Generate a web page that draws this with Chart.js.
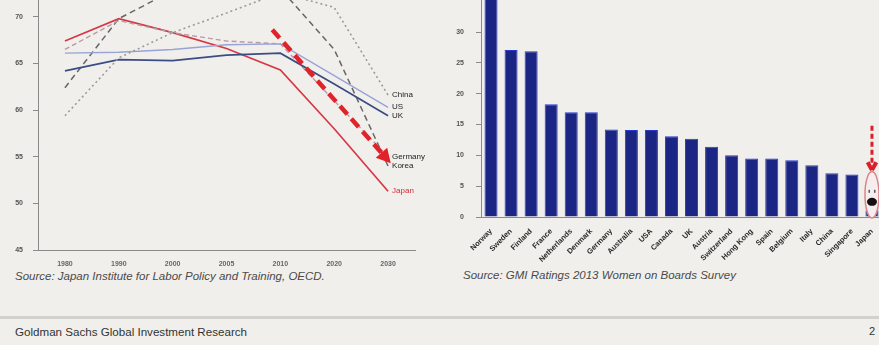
<!DOCTYPE html>
<html>
<head>
<meta charset="utf-8">
<script src="https://cdn.jsdelivr.net/npm/chart.js@4.4.1/dist/chart.umd.min.js"></script>
<style>
  html, body { margin:0; padding:0; }
  body { width:879px; height:345px; overflow:hidden; background:#f1efeb; position:relative;
         font-family:"Liberation Sans", Arial, sans-serif; }
  canvas { position:absolute; }
  #popChart { left:0; top:-20px; }
  #boardChart { left:440px; top:-20px; }
  .src { position:absolute; font-style:italic; font-size:11.5px; color:#4a4a4a; white-space:nowrap; }
  #src1 { left:15px; top:270px; }
  #src2 { left:463px; top:269px; }
  #rule { position:absolute; left:0; top:316px; width:879px; height:3px; background:#d3d1cd; }
  #footer { position:absolute; left:15px; top:325px; font-size:11.6px; color:#333; }
  #page { position:absolute; left:869px; top:325px; font-size:11px; color:#333; }
</style>
</head>
<body>
<canvas id="popChart" width="440" height="290"></canvas>
<canvas id="boardChart" width="442" height="282"></canvas>
<div class="src" id="src1">Source: Japan Institute for Labor Policy and Training, OECD.</div>
<div class="src" id="src2">Source: GMI Ratings 2013 Women on Boards Survey</div>
<div id="rule"></div>
<div id="footer">Goldman Sachs Global Investment Research</div>
<div id="page">2</div>

<script>
// left chart: working-age population share (%)
const years   = ['1980','1990','2000','2005','2010','2020','2030'];
const china   = [59.4, 65.6, 68.3, 70.4, 72.6, 71.0, 61.6];
const us      = [66.1, 66.2, 66.5, 67.0, 67.1, 63.7, 60.3];
const uk      = [64.2, 65.4, 65.3, 65.9, 66.1, 62.8, 59.4];
const germany = [66.5, 69.6, 68.3, 67.4, 67.1, 61.0, 55.0];
const korea   = [62.4, 69.8, 72.8, 73.5, 73.0, 66.5, 54.0];
const japan   = [67.4, 69.8, 68.3, 66.6, 64.3, 58.0, 51.3];
const popTicks = [45, 50, 55, 60, 65, 70];

// right chart: women on boards (%)
const countries = ['Norway','Sweden','Finland','France','Netherlands','Denmark','Germany','Australia','USA','Canada',
                   'UK','Austria','Switzerland','Hong Kong','Spain','Belgium','Italy','China','Singapore','Japan'];
const boardShare = [36.1, 27.1, 26.9, 18.3, 17.0, 17.0, 14.2, 14.1, 14.1, 13.1,
                    12.7, 11.4, 10.0, 9.5, 9.5, 9.2, 8.4, 7.1, 6.9, 1.1];
const boardTicks = [0, 5, 10, 15, 20, 25, 30];

// annotation arrows, in data units [categoryIndex, value]
const popArrow   = [[3.85, 68.6], [6.05, 54.3]];
const boardArrow = [[19, 14.8], [19, 7.6]];

const axisGrey = '#8c8a88';
const tickFont = { family:'Liberation Sans', size:7, weight:'bold' };

function drawArrow(ctx, x1, y1, x2, y2, opts){
  const ang = Math.atan2(y2-y1, x2-x1);
  const head = opts.head;
  ctx.save();
  ctx.strokeStyle = opts.color; ctx.fillStyle = opts.color;
  ctx.lineWidth = opts.width;
  ctx.setLineDash(opts.dash);
  ctx.beginPath();
  ctx.moveTo(x1, y1);
  ctx.lineTo(x2 - Math.cos(ang)*head*0.7, y2 - Math.sin(ang)*head*0.7);
  ctx.stroke();
  ctx.setLineDash([]);
  ctx.beginPath();
  ctx.moveTo(x2, y2);
  ctx.lineTo(x2 - head*Math.cos(ang-0.5), y2 - head*Math.sin(ang-0.5));
  if(opts.open){
    ctx.moveTo(x2, y2);
    ctx.lineTo(x2 - head*Math.cos(ang+0.5), y2 - head*Math.sin(ang+0.5));
    ctx.lineWidth = opts.width + 1;
    ctx.stroke();
  } else {
    ctx.lineTo(x2 - head*Math.cos(ang+0.5), y2 - head*Math.sin(ang+0.5));
    ctx.closePath();
    ctx.fill();
  }
  ctx.restore();
}

const endLabels = {
  id:'endLabels',
  afterDatasetsDraw(chart){
    const ctx = chart.ctx;
    ctx.save();
    ctx.font = '8px "Liberation Sans", Arial, sans-serif';
    ctx.textBaseline = 'middle';
    chart.data.datasets.forEach((ds, i) => {
      const pts = chart.getDatasetMeta(i).data;
      const p = pts[pts.length-1];
      ctx.fillStyle = ds.label === 'Japan' ? '#d42a35' : '#222';
      ctx.fillText(ds.label, p.x + 4, p.y);
    });
    const xs = chart.scales.x, ys = chart.scales.y;
    const px = v => xs.getPixelForValue(0) + v*(xs.getPixelForValue(1) - xs.getPixelForValue(0));
    drawArrow(ctx, px(popArrow[0][0]), ys.getPixelForValue(popArrow[0][1]),
                   px(popArrow[1][0]), ys.getPixelForValue(popArrow[1][1]),
                   { color:'#e0222a', width:4.5, dash:[11,6], head:16 });
    ctx.restore();
  }
};

const japanMark = {
  id:'japanMark',
  afterDatasetsDraw(chart){
    const ctx = chart.ctx, xs = chart.scales.x, ys = chart.scales.y;
    const x = xs.getPixelForValue(boardArrow[0][0]);
    drawArrow(ctx, x, ys.getPixelForValue(boardArrow[0][1]), x, ys.getPixelForValue(boardArrow[1][1]),
              { color:'#d8202a', width:3, dash:[5,3], head:9, open:true });
    // circled face over the Japan bar
    const top = ys.getPixelForValue(7.2), bot = ys.getPixelForValue(0);
    const cy = (top+bot)/2, ry = (bot-top)/2 + 1;
    ctx.save();
    ctx.beginPath();
    ctx.ellipse(x, cy, 7, ry, 0, 0, Math.PI*2);
    ctx.fillStyle = '#f6eeee'; ctx.fill();
    ctx.lineWidth = 1.5; ctx.strokeStyle = '#d9868a'; ctx.stroke();
    ctx.fillStyle = '#555';
    ctx.fillRect(x-3.5, cy-5, 1.5, 3);
    ctx.fillRect(x+2, cy-5, 1.5, 3);
    ctx.fillStyle = '#111';
    ctx.beginPath();
    ctx.ellipse(x, cy+7, 5, 4, 0, 0, Math.PI*2);
    ctx.fill();
    ctx.restore();
  }
};

function lineSet(label, data, color, dash, width){
  return { label, data, borderColor:color, borderDash:dash, borderWidth:width,
           pointRadius:0, fill:false, tension:0 };
}

new Chart(document.getElementById('popChart').getContext('2d'), {
  type:'line',
  data:{
    labels: years,
    datasets:[
      lineSet('China', china, '#9b9b9b', [2,3], 1.6),
      lineSet('US', us, '#98a3d6', [], 1.4),
      lineSet('UK', uk, '#3b4c86', [], 1.7),
      lineSet('Germany', germany, '#b89aa6', [5,3], 1.4),
      lineSet('Korea', korea, '#666666', [6,4], 1.5),
      lineSet('Japan', japan, '#d73845', [], 1.7)
    ]
  },
  options:{
    responsive:false, animation:false,
    layout:{ padding:{ top:20, right:25 } },
    plugins:{ legend:{ display:false }, tooltip:{ enabled:false } },
    scales:{
      x:{ offset:true,
          grid:{ display:false },
          border:{ display:true, color:axisGrey },
          ticks:{ font:tickFont, color:'#666', maxRotation:0, autoSkip:false, padding:2 },
          afterFit: s => { s.height = 20; } },
      y:{ min:45, max:71.8,
          afterBuildTicks: s => { s.ticks = popTicks.map(v => ({ value:v })); },
          grid:{ drawOnChartArea:false, tickLength:5, color:axisGrey },
          border:{ display:true, color:axisGrey },
          ticks:{ font:tickFont, color:'#555', padding:10 },
          afterFit: s => { s.width = 38; } }
    }
  },
  plugins:[endLabels]
});

new Chart(document.getElementById('boardChart').getContext('2d'), {
  type:'bar',
  data:{
    labels: countries,
    datasets:[{ data: boardShare, backgroundColor:'#1b2583', borderColor:'#2a3bd0', borderWidth:1,
                barPercentage:0.65, categoryPercentage:1 }]
  },
  options:{
    responsive:false, animation:false,
    layout:{ padding:{ top:20 } },
    plugins:{ legend:{ display:false }, tooltip:{ enabled:false } },
    scales:{
      x:{ grid:{ display:false },
          border:{ display:true, color:axisGrey },
          ticks:{ font:{ family:'Liberation Sans', size:7.5, weight:'bold' }, color:'#2a2a2a',
                  minRotation:45, maxRotation:45, autoSkip:false, padding:2 },
          afterFit: s => { s.height = 45; } },
      y:{ min:0, max:35.2,
          afterBuildTicks: s => { s.ticks = boardTicks.map(v => ({ value:v })); },
          grid:{ drawOnChartArea:false, tickLength:5, color:axisGrey },
          border:{ display:true, color:axisGrey },
          ticks:{ font:tickFont, color:'#555', padding:12 },
          afterFit: s => { s.width = 41; } }
    }
  },
  plugins:[japanMark]
});
</script>
</body>
</html>
